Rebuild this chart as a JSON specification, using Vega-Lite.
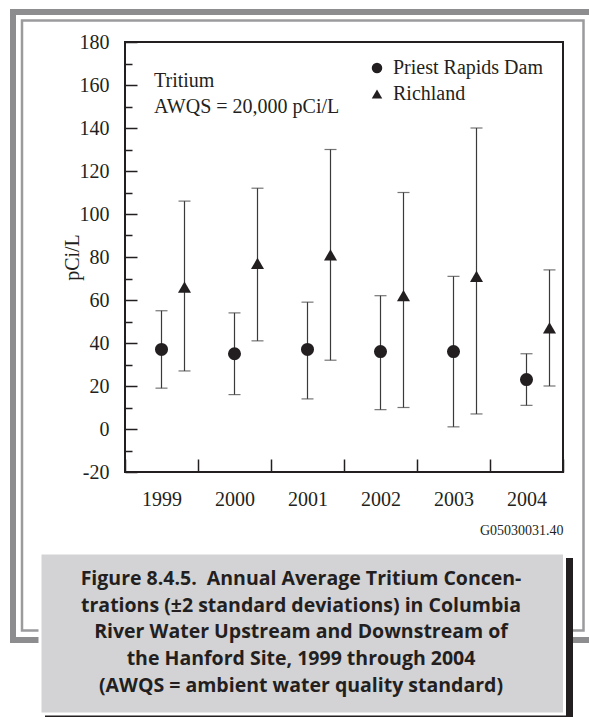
{
  "$schema": "https://vega.github.io/schema/vega-lite/v6.json",
  "width": 438,
  "height": 430,
  "autosize": {"type": "none"},
  "padding": {"left": 125, "top": 42, "right": 26, "bottom": 245},
  "background": "white",
  "config": {
    "view": {"stroke": "#231f20", "strokeWidth": 2},
    "font": "Liberation Serif",
    "axis": {
      "labelFont": "Liberation Serif",
      "labelFontSize": 20,
      "labelColor": "#231f20",
      "titleFont": "Liberation Serif",
      "titleFontWeight": "normal",
      "titleColor": "#231f20",
      "tickColor": "#231f20",
      "tickWidth": 1.5,
      "domain": false,
      "grid": false
    },
    "legend": {
      "orient": "none",
      "legendX": 242,
      "legendY": 16,
      "labelFont": "Liberation Serif",
      "labelFontSize": 20,
      "labelColor": "#231f20",
      "labelLimit": 300,
      "symbolSize": 110,
      "symbolFillColor": "#231f20",
      "symbolStrokeWidth": 0,
      "labelOffset": 6,
      "rowPadding": 6
    }
  },
  "title": {
    "text": [
      "Figure 8.4.5.\u00a0 Annual Average Tritium Concen-",
      "trations (±2 standard deviations) in Columbia",
      "River Water Upstream and Downstream of",
      "the Hanford Site, 1999 through 2004",
      "(AWQS = ambient water quality standard)"
    ],
    "orient": "bottom",
    "anchor": "middle",
    "frame": "group",
    "dx": -43,
    "offset": -147,
    "font": "Open Sans",
    "fontSize": 19.5,
    "fontWeight": "bold",
    "color": "#231f20",
    "lineHeight": 26.7
  },
  "datasets": {
    "tritium": [
      {"year": "1999", "station": "Priest Rapids Dam", "mean": 37, "low": 19, "high": 55},
      {"year": "2000", "station": "Priest Rapids Dam", "mean": 35, "low": 16, "high": 54},
      {"year": "2001", "station": "Priest Rapids Dam", "mean": 37, "low": 14, "high": 59},
      {"year": "2002", "station": "Priest Rapids Dam", "mean": 36, "low": 9, "high": 62},
      {"year": "2003", "station": "Priest Rapids Dam", "mean": 36, "low": 1, "high": 71},
      {"year": "2004", "station": "Priest Rapids Dam", "mean": 23, "low": 11, "high": 35},
      {"year": "1999", "station": "Richland", "mean": 66, "low": 27, "high": 106},
      {"year": "2000", "station": "Richland", "mean": 77, "low": 41, "high": 112},
      {"year": "2001", "station": "Richland", "mean": 81, "low": 32, "high": 130},
      {"year": "2002", "station": "Richland", "mean": 62, "low": 10, "high": 110},
      {"year": "2003", "station": "Richland", "mean": 71, "low": 7, "high": 140},
      {"year": "2004", "station": "Richland", "mean": 47, "low": 20, "high": 74}
    ]
  },
  "data": {"name": "tritium"},
  "resolve": {"axis": {"y": "independent"}},
  "layer": [
    {
      "data": {"values": [{}]},
      "layer": [
        {
          "mark": {"type": "rect", "filled": false, "stroke": "#8d8d90", "strokeWidth": 6},
          "encoding": {"x": {"value": -112}, "x2": {"value": 480}, "y": {"value": -30}, "y2": {"value": 598}}
        },
        {
          "mark": {"type": "rect", "filled": false, "stroke": "#9b9b9e", "strokeWidth": 2.5},
          "encoding": {"x": {"value": -103}, "x2": {"value": 458.5}, "y": {"value": -21.5}, "y2": {"value": 588.5}}
        },
        {
          "mark": {"type": "rect", "fill": "#231f20"},
          "encoding": {"x": {"value": -80}, "x2": {"value": 448}, "y": {"value": 516}, "y2": {"value": 675}}
        },
        {
          "mark": {"type": "rect", "fill": "#d3d3d5", "stroke": "white", "strokeWidth": 3},
          "encoding": {"x": {"value": -85}, "x2": {"value": 439.5}, "y": {"value": 511}, "y2": {"value": 672}}
        }
      ]
    },
    {
      "mark": {"type": "rule", "color": "#3a3a3a", "strokeWidth": 1.2},
      "encoding": {
        "x": {
          "field": "year", "type": "ordinal",
          "scale": {"paddingInner": 0, "paddingOuter": 0},
          "axis": {
            "title": "G05030031.40",
            "titleAnchor": "end",
            "titleFontSize": 14,
            "titlePadding": 14,
            "labelAngle": 0,
            "tickBand": "extent",
            "tickSize": -13,
            "labelPadding": 30
          }
        },
        "xOffset": {
          "field": "station", "type": "nominal",
          "scale": {"range": [25, 71], "paddingInner": 0, "paddingOuter": 0}
        },
        "y": {
          "field": "low", "type": "quantitative",
          "scale": {"domain": [-20, 180], "nice": false, "zero": false},
          "axis": {
            "orient": "left",
            "title": "pCi/L",
            "titleFontSize": 20,
            "titleX": -53,
            "titleBaseline": "middle",
            "values": [-20, 0, 20, 40, 60, 80, 100, 120, 140, 160, 180],
            "labelExpr": "'' + datum.value",
            "tickSize": -12,
            "labelPadding": 28
          }
        },
        "y2": {"field": "high"}
      }
    },
    {
      "mark": {"type": "tick", "color": "#3a3a3a", "size": 12, "thickness": 1.2},
      "encoding": {
        "x": {"field": "year", "type": "ordinal"},
        "xOffset": {"field": "station", "type": "nominal"},
        "y": {
          "field": "low", "type": "quantitative",
          "axis": {
            "orient": "left",
            "title": null,
            "labels": false,
            "values": [-10, 10, 30, 50, 70, 90, 110, 130, 150, 170],
            "tickSize": -7
          }
        }
      }
    },
    {
      "mark": {"type": "tick", "color": "#3a3a3a", "size": 12, "thickness": 1.2},
      "encoding": {
        "x": {"field": "year", "type": "ordinal"},
        "xOffset": {"field": "station", "type": "nominal"},
        "y": {"field": "high", "type": "quantitative", "axis": null}
      }
    },
    {
      "mark": {"type": "point", "filled": true, "size": 170, "color": "#231f20", "opacity": 1},
      "encoding": {
        "x": {"field": "year", "type": "ordinal"},
        "xOffset": {"field": "station", "type": "nominal"},
        "y": {"field": "mean", "type": "quantitative", "axis": null},
        "shape": {
          "field": "station", "type": "nominal",
          "scale": {"domain": ["Priest Rapids Dam", "Richland"], "range": ["circle", "triangle-up"]},
          "legend": {"title": null}
        }
      }
    },
    {
      "data": {"values": [{}]},
      "mark": {"type": "text", "align": "left", "baseline": "middle", "dx": -7.5, "font": "Liberation Serif", "fontSize": 20, "lineHeight": 26, "color": "#231f20"},
      "encoding": {
        "x": {"datum": "1999", "type": "ordinal"},
        "y": {"datum": 162, "type": "quantitative", "axis": null},
        "text": {"value": ["Tritium", "AWQS = 20,000 pCi/L"]}
      }
    }
  ]
}
